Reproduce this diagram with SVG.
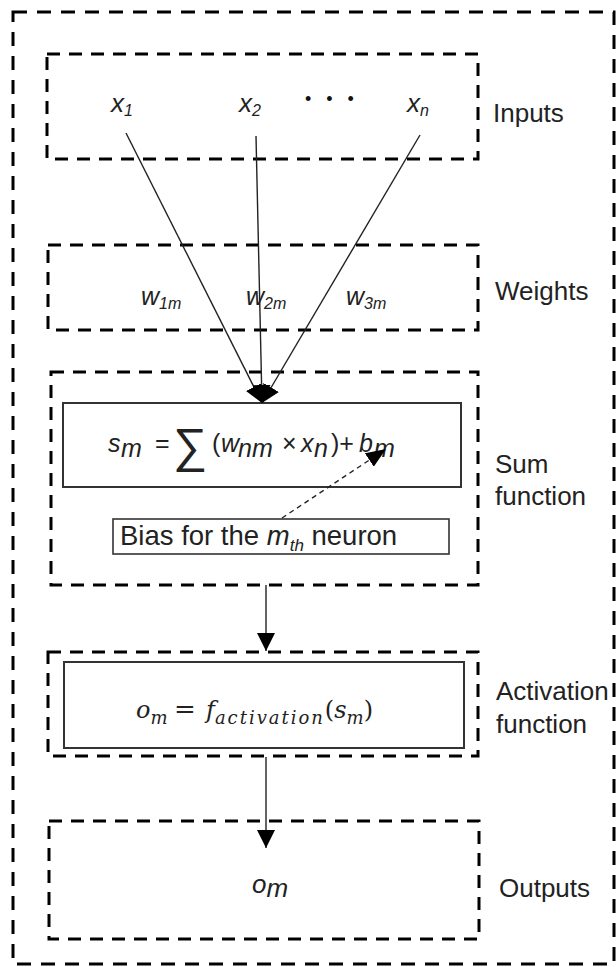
<svg xmlns="http://www.w3.org/2000/svg" width="616" height="967" viewBox="0 0 616 967">
<style>
.dash{fill:none;stroke:#000;stroke-width:3;stroke-dasharray:13 9}
.solid{fill:#fff;stroke:#333;stroke-width:2}
.lbl{font-family:"Liberation Sans",Arial,sans-serif;font-size:26px;fill:#222}
.var{font-family:"Liberation Sans",Arial,sans-serif;font-style:italic;fill:#222}
.math{font-family:"DejaVu Serif","Liberation Serif",serif;font-style:italic;fill:#222}
.conn{stroke:#222;stroke-width:1.4;fill:none}
</style>
<defs>
<marker id="ah" markerUnits="userSpaceOnUse" markerWidth="20" markerHeight="18" refX="18" refY="9" orient="auto">
<path d="M0,0 L18,9 L0,18 z" fill="#000"/>
</marker>
<marker id="ah2" markerUnits="userSpaceOnUse" markerWidth="22" markerHeight="16" refX="20" refY="8" orient="auto">
<path d="M0,0 L20,8 L0,16 z" fill="#000"/>
</marker>
</defs>
<rect id="outer" class="dash" x="13" y="12" width="601" height="952" style="stroke-dasharray:14 10"/>

<g id="inputs">
<rect class="dash" x="47" y="54" width="431" height="105"/>
<text class="var" x="111" y="112" font-size="26">x<tspan font-size="16" dy="4">1</tspan></text>
<text class="var" x="239" y="112" font-size="26">x<tspan font-size="16" dy="4">2</tspan></text>
<text x="305" y="105" font-family="Liberation Sans,sans-serif" font-size="18" letter-spacing="15" fill="#111">•••</text>
<text class="var" x="407" y="112" font-size="26">x<tspan font-size="16" dy="4">n</tspan></text>
<text class="lbl" x="493" y="122">Inputs</text>
</g>

<g id="weights">
<rect class="dash" x="48" y="245" width="430" height="85"/>
<text class="var" x="141" y="305" font-size="25">w<tspan font-size="16" dy="4">1m</tspan></text>
<text class="var" x="246" y="305" font-size="25">w<tspan font-size="16" dy="4">2m</tspan></text>
<text class="var" x="346" y="305" font-size="25">w<tspan font-size="16" dy="4">3m</tspan></text>
<text class="lbl" x="495" y="300">Weights</text>
</g>

<g id="sum">
<rect class="dash" x="51" y="372" width="427" height="213"/>
<rect class="solid" x="63" y="403" width="398" height="84"/>
<text class="var" y="452" font-size="25"><tspan x="108">s</tspan><tspan x="121" dy="5">m</tspan><tspan font-style="normal" x="155" dy="-5">=</tspan><tspan font-style="normal" x="212">(</tspan><tspan x="221">w</tspan><tspan x="238" dy="5">nm</tspan><tspan font-style="normal" x="282" dy="-5">×</tspan><tspan x="301">x</tspan><tspan x="314" dy="5">n</tspan><tspan font-style="normal" x="331" dy="-5">)+</tspan><tspan x="359">b</tspan><tspan x="374" dy="5">m</tspan></text>
<text x="173" y="462" font-family="Liberation Sans,sans-serif" font-size="48" fill="#222">∑</text>
<rect class="solid" x="113" y="519" width="336" height="35" style="stroke-width:1.6"/>
<text class="lbl" x="120" y="545" style="font-size:27.5px">Bias for the <tspan font-style="italic">m</tspan><tspan font-style="italic" font-size="17" dy="6">th</tspan><tspan dy="-6"> neuron</tspan></text>
<text class="lbl" x="495" y="473">Sum</text>
<text class="lbl" x="495" y="505">function</text>
</g>

<g id="activation">
<rect class="dash" x="48" y="652" width="430" height="104"/>
<rect class="solid" x="64" y="662" width="400" height="86"/>
<text class="math" x="136" y="718" font-size="24">o<tspan font-size="18" dy="6">m</tspan><tspan font-style="normal" font-size="26" x="174" dy="-6">=</tspan><tspan x="206">f</tspan><tspan font-size="18" dy="6" textLength="108">activation</tspan><tspan font-style="normal" dy="-6">(</tspan>s<tspan font-size="18" dy="6">m</tspan><tspan font-style="normal" dy="-6">)</tspan></text>
<text class="lbl" x="496" y="700">Activation</text>
<text class="lbl" x="496" y="733">function</text>
</g>

<g id="outputs">
<rect class="dash" x="49" y="821" width="430" height="118"/>
<text class="var" x="252" y="893" font-size="26">o<tspan dy="4">m</tspan></text>
<text class="lbl" x="499" y="897">Outputs</text>
</g>

<g id="connectors">
<line class="conn" x1="126" y1="133" x2="262" y2="403" marker-end="url(#ah)"/>
<line class="conn" x1="256" y1="136" x2="262" y2="403" marker-end="url(#ah)"/>
<line class="conn" x1="420" y1="135" x2="262" y2="403" marker-end="url(#ah)"/>
<line class="conn" x1="282" y1="518" x2="386" y2="449" stroke-dasharray="5 4" marker-end="url(#ah2)"/>
<line class="conn" x1="266" y1="585" x2="266" y2="651" marker-end="url(#ah)"/>
<line class="conn" x1="266" y1="757" x2="266" y2="848" marker-end="url(#ah)"/>
</g>
</svg>
